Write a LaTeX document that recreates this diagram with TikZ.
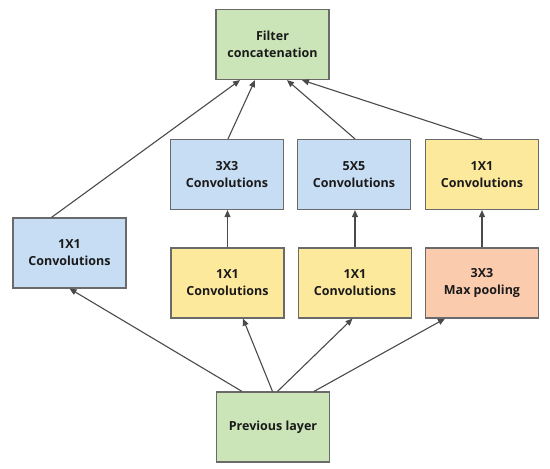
\documentclass[tikz,border=0pt]{standalone}
\usepackage{fontspec}
\setmainfont{Open Sans}
\usetikzlibrary{arrows.meta}
\definecolor{gfill}{HTML}{CBE5B8}
\definecolor{bfill}{HTML}{C7DDF3}
\definecolor{yfill}{HTML}{FDE99C}
\definecolor{sfill}{HTML}{FBCBAE}
\definecolor{bord}{HTML}{6A6A6A}
\definecolor{linec}{HTML}{4A4A4A}
\definecolor{txt}{HTML}{1A1A1A}
\begin{document}
\begin{tikzpicture}[x=1pt,y=-1pt,
  box/.style={draw=bord,line width=1.2pt,minimum width=113pt,minimum height=70pt,inner sep=0pt,
    align=center,font=\fontsize{12.5}{17}\selectfont\bfseries,text=txt},
  conn/.style={draw=linec,line width=1.1pt,-{Triangle[length=7pt,width=6pt]}}]
\useasboundingbox (0,0) rectangle (550,469);
\node[box,fill=gfill] (filt) at (272.5,44.5) {Filter\\concatenation};
\node[box,fill=bfill] (c33) at (227,174.5) {3X3\\Convolutions};
\node[box,fill=bfill] (c55) at (354,174.5) {5X5\\Convolutions};
\node[box,fill=yfill] (c11r) at (482,174.5) {1X1\\Convolutions};
\node[box,fill=bfill] (c11l) at (69.5,253) {1X1\\Convolutions};
\node[box,fill=yfill] (r33) at (227.5,283) {1X1\\Convolutions};
\node[box,fill=yfill] (r55) at (355,283) {1X1\\Convolutions};
\node[box,fill=sfill] (pool) at (482,283) {3X3\\Max pooling};
\node[box,fill=gfill] (prev) at (273,427) {Previous layer};
% to filter concatenation
\draw[conn] ([xshift=-18pt]c11l.north) -- ([xshift=-32.5pt]filt.south);
\draw[conn] ([xshift=1pt]c33.north) -- ([xshift=-17.5pt]filt.south);
\draw[conn] ([xshift=1pt]c55.north) -- ([xshift=14.5pt]filt.south);
\draw[conn] (c11r.north) -- ([xshift=29.5pt]filt.south);
% vertical
\draw[conn] (r33.north) -- (r33.north |- c33.south);
\draw[conn] (r55.north) -- (r55.north |- c55.south);
\draw[conn] (pool.north) -- (c11r.south);
% from previous layer
\draw[conn] ([xshift=-31pt]prev.north) -- (c11l.south);
\draw[conn] ([xshift=-0.5pt]prev.north) -- ([xshift=15.5pt]r33.south);
\draw[conn] ([xshift=4.5pt]prev.north) -- ([xshift=-2.5pt]r55.south);
\draw[conn] ([xshift=41pt]prev.north) -- ([xshift=-37pt]pool.south);
\end{tikzpicture}
\end{document}
